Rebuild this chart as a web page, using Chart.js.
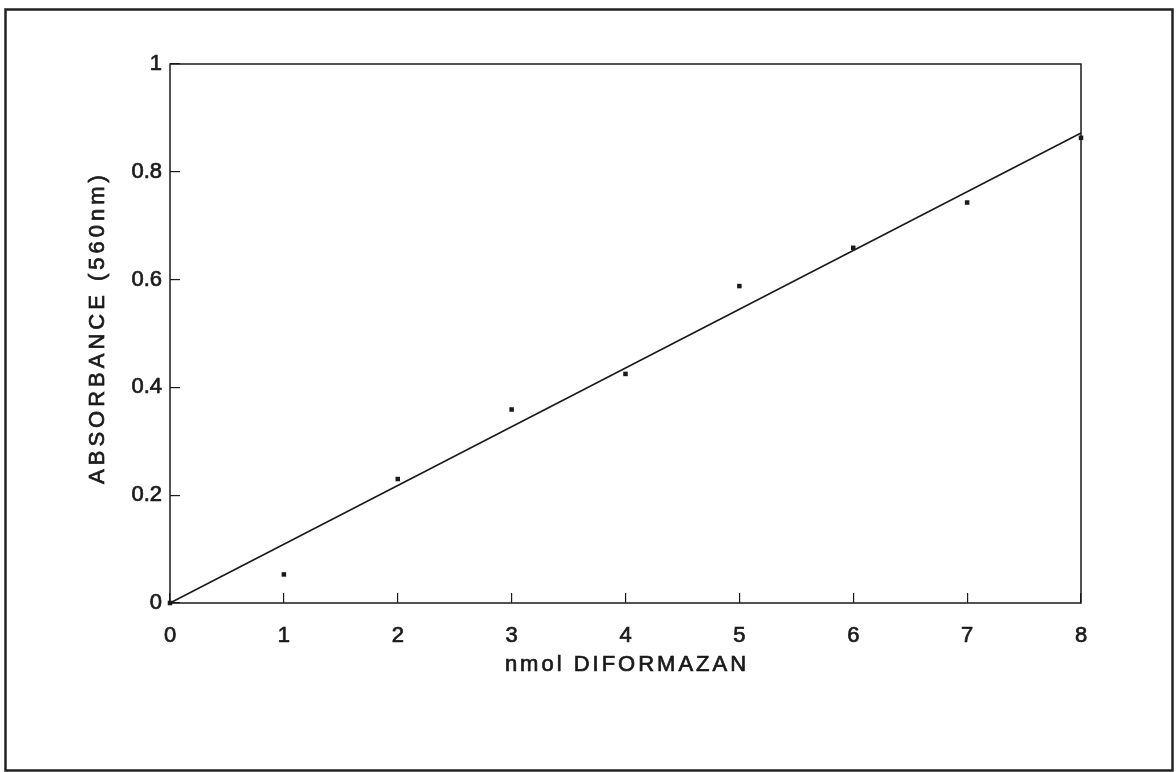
<!DOCTYPE html>
<html>
<head>
<meta charset="utf-8">
<title>Absorbance vs nmol Diformazan</title>
<script src="https://cdn.jsdelivr.net/npm/chart.js@4.4.1/dist/chart.umd.min.js"></script>
<style>
  html, body { margin: 0; padding: 0; background: #fff; }
  #wrap { width: 1176px; height: 772px; }
</style>
</head>
<body>
<div id="wrap"><canvas id="c" width="1176" height="772"></canvas></div>
<script>
// Calibration data: absorbance at 560 nm for each amount of diformazan
const nmolDiformazan = [0, 1, 2, 3, 4, 5, 6, 7, 8];
const absorbance = [0, 0.053, 0.230, 0.359, 0.425, 0.588, 0.659, 0.743, 0.863];

// Fitted straight line through the origin (end points)
const fitX = [0, 8];
const fitY = [0, 0.872];

const xTickLabels = ['0', '1', '2', '3', '4', '5', '6', '7', '8'];
const yTickLabels = ['0', '0.2', '0.4', '0.6', '0.8', '1'];

const xTitle = 'nmol DIFORMAZAN';
const yTitle = 'ABSORBANCE (560nm)';

const INK = '#1a1a1a';
const FONT = '"Liberation Sans", Arial, Helvetica, sans-serif';

// Frame around the figure, box around the plot area, and spaced axis titles
const framePlugin = {
  id: 'framePlugin',
  beforeDraw(chart) {
    const ctx = chart.ctx;
    ctx.save();
    ctx.fillStyle = '#fff';
    ctx.fillRect(0, 0, chart.width, chart.height);
    ctx.strokeStyle = '#222';
    ctx.lineWidth = 2.5;
    ctx.strokeRect(5.5, 9.5, 1167, 761);
    ctx.restore();
  },
  afterDraw(chart) {
    const ctx = chart.ctx;
    const a = chart.chartArea;
    ctx.save();
    ctx.strokeStyle = INK;
    ctx.lineWidth = 1.5;
    ctx.strokeRect(a.left, a.top, a.right - a.left, a.bottom - a.top);

    ctx.fillStyle = INK;
    ctx.strokeStyle = INK;
    ctx.lineWidth = 0.7;
    ctx.font = '22px ' + FONT;
    ctx.textAlign = 'center';
    ctx.textBaseline = 'alphabetic';
    ctx.letterSpacing = '3px';
    const xCx = (a.left + a.right) / 2 + 1.5;
    ctx.fillText(xTitle, xCx, 671);
    ctx.strokeText(xTitle, xCx, 671);

    ctx.translate(104, (a.top + a.bottom) / 2 - 4);
    ctx.rotate(-Math.PI / 2);
    ctx.letterSpacing = '4px';
    ctx.fillText(yTitle, 2, 0);
    ctx.strokeText(yTitle, 2, 0);
    ctx.restore();
  }
};

new Chart(document.getElementById('c'), {
  type: 'scatter',
  data: {
    datasets: [
      {
        type: 'line',
        label: 'fit',
        data: fitX.map((x, i) => ({ x: x, y: fitY[i] })),
        borderColor: INK,
        borderWidth: 1.6,
        pointRadius: 0,
        fill: false,
        tension: 0,
        clip: false
      },
      {
        label: 'absorbance',
        data: nmolDiformazan.map((x, i) => ({ x: x, y: absorbance[i] })),
        pointStyle: 'rect',
        pointRadius: 3.2,
        pointBackgroundColor: INK,
        pointBorderColor: INK,
        pointBorderWidth: 0,
        showLine: false,
        clip: false
      }
    ]
  },
  options: {
    responsive: false,
    animation: false,
    devicePixelRatio: 1,
    layout: { padding: { left: 0, top: 64, right: 95, bottom: 0 } },
    plugins: {
      legend: { display: false },
      tooltip: { enabled: false },
      title: { display: false }
    },
    scales: {
      x: {
        type: 'linear',
        min: 0,
        max: 8,
        afterFit(scale) { scale.height = 169; },
        border: { display: false },
        grid: {
          drawOnChartArea: false,
          drawTicks: true,
          tickLength: -10,
          color: INK,
          lineWidth: 1.2
        },
        ticks: {
          stepSize: 1,
          padding: 30,
          color: INK,
          textStrokeColor: INK,
          textStrokeWidth: 0.7,
          font: { family: FONT, size: 22 },
          maxRotation: 0,
          callback: (v) => xTickLabels[Math.round(v)]
        },
        title: { display: false }
      },
      y: {
        type: 'linear',
        min: 0,
        max: 1,
        afterFit(scale) { scale.width = 170; },
        border: { display: false },
        grid: {
          drawOnChartArea: false,
          drawTicks: true,
          tickLength: -10,
          color: INK,
          lineWidth: 1.2
        },
        ticks: {
          stepSize: 0.2,
          padding: 18,
          color: INK,
          textStrokeColor: INK,
          textStrokeWidth: 0.7,
          font: { family: FONT, size: 22 },
          callback: (v) => yTickLabels[Math.round(v * 5)]
        },
        title: { display: false }
      }
    }
  },
  plugins: [framePlugin]
});
</script>
</body>
</html>
